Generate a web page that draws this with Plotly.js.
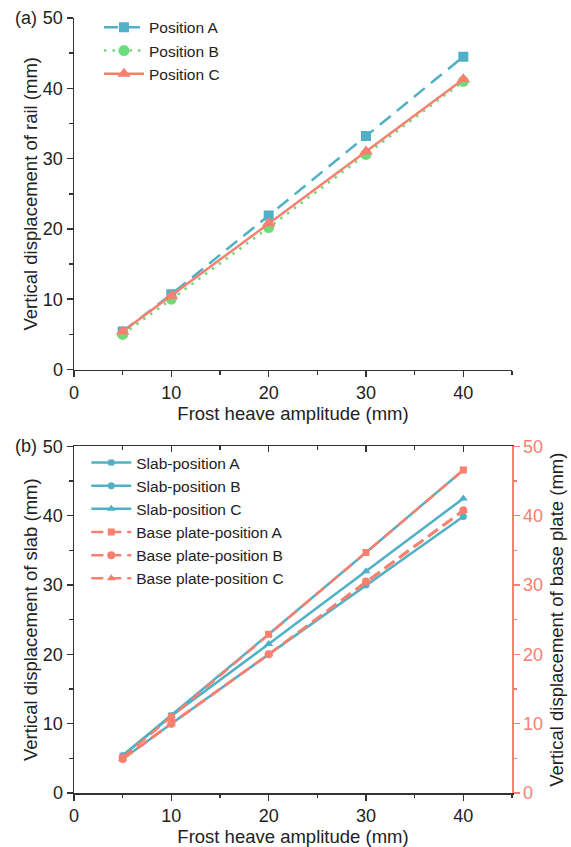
<!DOCTYPE html>
<html><head><meta charset="utf-8">
<script src="https://cdn.plot.ly/plotly-3.0.1.min.js"></script>
<style>html,body{margin:0;padding:0;background:#fff}#chart{width:571px;height:847px}</style>
</head><body><div id="chart"></div>
<script>
const amplitude = [5, 10, 20, 30, 40];
const railA = [5.4, 10.7, 21.9, 33.2, 44.5];
const railB = [5.0, 10.0, 20.2, 30.6, 41.0];
const railC = [5.4, 10.5, 20.8, 31.0, 41.3];
const slabA = [5.4, 11.2, 22.9, 34.7, 46.6];
const slabB = [4.9, 10.0, 20.0, 30.0, 39.9];
const slabC = [5.4, 11.1, 21.5, 32.0, 42.5];
const baseA = [5.1, 11.0, 22.9, 34.7, 46.6];
const baseB = [4.9, 10.0, 20.0, 30.5, 40.8];
const baseC = [4.9, 10.0, 20.0, 30.4, 40.7];
const xTicks = [0, 10, 20, 30, 40];
const yTicks = [0, 10, 20, 30, 40, 50];

const teal = '#4fb0c6', green = '#6ddc7a', salmon = '#f7806f';
const FAM = 'Liberation Sans, Arial, sans-serif';
const font = {family: FAM, size: 18, color: '#222'};
const titleFont = {family: FAM, size: 18.5, color: '#222'};

const traces = [
  {x: amplitude, y: railA, name: 'Position A', mode: 'lines+markers', xaxis: 'x', yaxis: 'y', legend: 'legend',
   line: {color: teal, width: 2.5, dash: '14px,8px'}, marker: {symbol: 'square', size: 10, color: teal}},
  {x: amplitude, y: railB, name: 'Position B', mode: 'lines+markers', xaxis: 'x', yaxis: 'y', legend: 'legend',
   line: {color: green, width: 2.5, dash: '2.5px,6px'}, marker: {symbol: 'circle', size: 11, color: green}},
  {x: amplitude, y: railC, name: 'Position C', mode: 'lines+markers', xaxis: 'x', yaxis: 'y', legend: 'legend',
   line: {color: salmon, width: 2.5}, marker: {symbol: 'triangle-up', size: 12, color: salmon}},
  {x: amplitude, y: slabA, name: 'Slab-position A', mode: 'lines+markers', xaxis: 'x2', yaxis: 'y2', legend: 'legend2',
   line: {color: teal, width: 2.5}, marker: {symbol: 'square', size: 6, color: teal}},
  {x: amplitude, y: slabB, name: 'Slab-position B', mode: 'lines+markers', xaxis: 'x2', yaxis: 'y2', legend: 'legend2',
   line: {color: teal, width: 2.5}, marker: {symbol: 'circle', size: 7, color: teal}},
  {x: amplitude, y: slabC, name: 'Slab-position C', mode: 'lines+markers', xaxis: 'x2', yaxis: 'y2', legend: 'legend2',
   line: {color: teal, width: 2.5}, marker: {symbol: 'triangle-up', size: 8, color: teal}},
  {x: amplitude, y: baseA, name: 'Base plate-position A', mode: 'lines+markers', xaxis: 'x2', yaxis: 'y3', legend: 'legend2',
   line: {color: salmon, width: 2.5, dash: '12px,6px'}, marker: {symbol: 'square', size: 7, color: salmon}},
  {x: amplitude, y: baseB, name: 'Base plate-position B', mode: 'lines+markers', xaxis: 'x2', yaxis: 'y3', legend: 'legend2',
   line: {color: salmon, width: 2.5, dash: '12px,6px'}, marker: {symbol: 'circle', size: 8, color: salmon}},
  {x: amplitude, y: baseC, name: 'Base plate-position C', mode: 'lines+markers', xaxis: 'x2', yaxis: 'y3', legend: 'legend2',
   line: {color: salmon, width: 2.5, dash: '12px,6px'}, marker: {symbol: 'triangle-up', size: 8, color: salmon}},
  {x: [0], y: [0], xaxis: 'x3', yaxis: 'y2', showlegend: false, hoverinfo: 'skip', mode: 'markers', marker: {opacity: 0}}
];

const axBase = {
  showgrid: false, zeroline: false, showline: true, linecolor: '#333', linewidth: 1.5,
  ticks: 'outside', ticklen: 6, tickwidth: 1.5, tickcolor: '#333',
  tickfont: {family: FAM, size: 18, color: '#222'},
  minor: {dtick: 5, ticks: 'outside', ticklen: 3.5, tickwidth: 1.5, tickcolor: '#333'}
};

const layout = {
  width: 571, height: 847, paper_bgcolor: '#fff', plot_bgcolor: '#fff', font: font,
  margin: {l: 74, r: 59, t: 17, b: 54},
  showlegend: true,
  xaxis: Object.assign({}, axBase, {domain: [0, 1], range: [0, 45], anchor: 'y', tickvals: xTicks,
    title: {text: 'Frost heave amplitude (mm)', font: titleFont, standoff: 1}}),
  yaxis: Object.assign({}, axBase, {domain: [0.5464, 1], range: [0, 50], anchor: 'x', tickvals: yTicks,
    title: {text: 'Vertical displacement of rail (mm)', font: titleFont, standoff: 0}}),
  xaxis2: Object.assign({}, axBase, {domain: [0, 1], range: [0, 45], anchor: 'y2', tickvals: xTicks,
    title: {text: 'Frost heave amplitude (mm)', font: titleFont, standoff: 1}}),
  xaxis3: Object.assign({}, axBase, {range: [0, 45], overlaying: 'x2', anchor: 'y2', side: 'top', tickvals: xTicks,
    ticks: 'inside', showticklabels: false,
    minor: {dtick: 5, ticks: 'inside', ticklen: 3.5, tickwidth: 1.5, tickcolor: '#333'}}),
  yaxis2: Object.assign({}, axBase, {domain: [0, 0.4472], range: [0, 50], anchor: 'x2', tickvals: yTicks,
    title: {text: 'Vertical displacement of slab (mm)', font: titleFont, standoff: 0}}),
  yaxis3: Object.assign({}, axBase, {range: [0, 50], overlaying: 'y2', anchor: 'x2', side: 'right', tickvals: yTicks,
    linecolor: salmon, tickcolor: salmon, tickfont: {family: FAM, size: 18, color: salmon},
    minor: {dtick: 5, ticks: 'outside', ticklen: 3.5, tickwidth: 1.5, tickcolor: salmon},
    title: {text: 'Vertical displacement of base plate (mm)', font: titleFont, standoff: 8}}),
  legend: {x: 0.057, y: 1.008, xanchor: 'left', yanchor: 'top', bgcolor: 'rgba(0,0,0,0)',
    font: {family: FAM, size: 15.5, color: '#222'}, tracegroupgap: 0, itemwidth: 40},
  legend2: {x: 0.028, y: 0.4472, xanchor: 'left', yanchor: 'top', bgcolor: 'rgba(0,0,0,0)',
    font: {family: FAM, size: 15.5, color: '#222'}, tracegroupgap: 0, itemwidth: 40},
  annotations: [
    {text: '(a)', xref: 'paper', yref: 'paper', x: -0.139, y: 1.0, xanchor: 'left', yanchor: 'middle', showarrow: false,
     font: {family: FAM, size: 18, color: '#222'}},
    {text: '(b)', xref: 'paper', yref: 'paper', x: -0.139, y: 0.4472, xanchor: 'left', yanchor: 'middle', showarrow: false,
     font: {family: FAM, size: 18, color: '#222'}}
  ]
};

Plotly.newPlot('chart', traces, layout, {displayModeBar: false, staticPlot: true});
</script>
</body></html>
